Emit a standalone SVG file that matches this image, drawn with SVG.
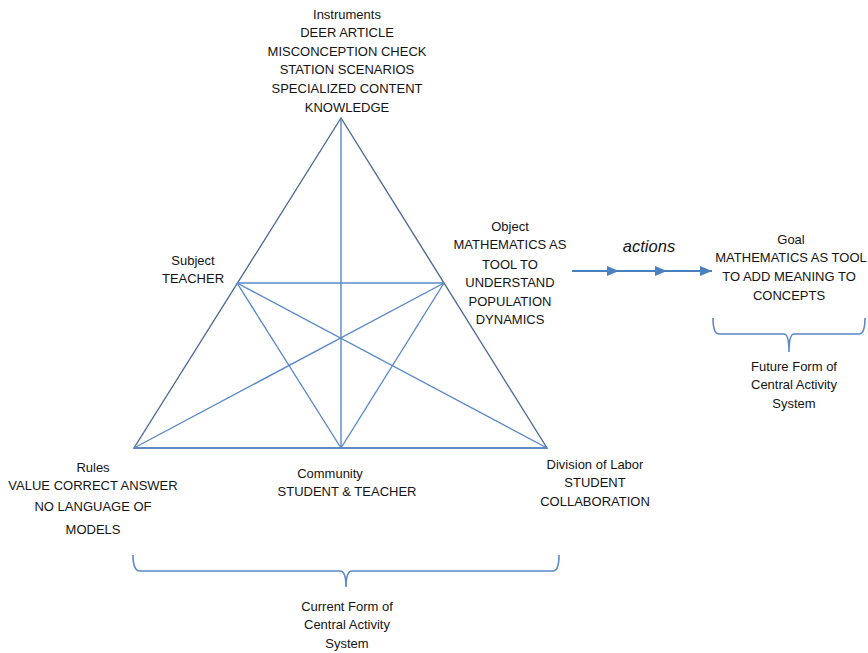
<svg xmlns="http://www.w3.org/2000/svg" width="868" height="653" viewBox="0 0 868 653">
  <style>
    text { font-family: "Liberation Sans", Arial, sans-serif; font-size: 13px; fill: #141414; text-anchor: middle; }
    .outer { stroke: #4f6c94; stroke-width: 1.4; fill: none; }
    .inner { stroke: #5a88c8; stroke-width: 1.4; fill: none; }
    .brace { stroke: #5a88c8; stroke-width: 1.6; fill: none; }
    .flow { stroke: #4a7fc0; stroke-width: 2; fill: none; }
    .it { font-style: italic; font-size: 16.5px; }
  </style>
  <defs>
    <marker id="tri" viewBox="0 0 12 10" refX="12" refY="5" markerWidth="12" markerHeight="10" markerUnits="userSpaceOnUse" orient="auto">
      <path d="M0,0 L12,5 L0,10 z" fill="#4a7fc0"/>
    </marker>
  </defs>
  <rect width="868" height="653" fill="#ffffff"/>

  <g id="connectors">
    <!-- outer triangle -->
    <path class="outer" d="M341,118 L134,448 L547,448 Z"/>
    <!-- inner mediating lines -->
    <line class="inner" x1="237" y1="283" x2="444" y2="283"/>
    <line class="inner" x1="341" y1="118" x2="341" y2="448"/>
    <line class="inner" x1="237" y1="283" x2="341" y2="448"/>
    <line class="inner" x1="237" y1="283" x2="547" y2="448"/>
    <line class="inner" x1="444" y1="283" x2="134" y2="448"/>
    <line class="inner" x1="444" y1="283" x2="341" y2="448"/>
    <line class="inner" x1="134" y1="448" x2="547" y2="448"/>
    <!-- actions arrow -->
    <line class="flow" x1="572" y1="271" x2="619" y2="271" marker-end="url(#tri)"/>
    <line class="flow" x1="617" y1="271" x2="667" y2="271" marker-end="url(#tri)"/>
    <line class="flow" x1="665" y1="271" x2="712" y2="271" marker-end="url(#tri)"/>
    <!-- braces -->
    <path class="brace" d="M133,555 Q133,571 140,571 L340,571 Q346,571 346,587 Q346,571 352,571 L553,571 Q559,571 559,555"/>
    <path class="brace" d="M713,318 Q713,334 719,334 L784,334 Q789,334 789,352 Q789,334 794,334 L859,334 Q865,334 865,318"/>
  </g>

  <g id="instruments">
    <text x="347" y="19">Instruments</text>
    <text x="347" y="37">DEER ARTICLE</text>
    <text x="347" y="56">MISCONCEPTION CHECK</text>
    <text x="347" y="74">STATION SCENARIOS</text>
    <text x="347" y="93">SPECIALIZED CONTENT</text>
    <text x="347" y="112">KNOWLEDGE</text>
  </g>

  <g id="subject">
    <text x="193" y="265">Subject</text>
    <text x="193" y="283">TEACHER</text>
  </g>

  <g id="object">
    <text x="510" y="231">Object</text>
    <text x="510" y="249">MATHEMATICS AS</text>
    <text x="510" y="269">TOOL TO</text>
    <text x="510" y="287">UNDERSTAND</text>
    <text x="510" y="306">POPULATION</text>
    <text x="510" y="324">DYNAMICS</text>
  </g>

  <g id="actions">
    <text class="it" x="649" y="252">actions</text>
  </g>

  <g id="goal">
    <text x="791" y="244">Goal</text>
    <text x="791" y="262">MATHEMATICS AS TOOL</text>
    <text x="789" y="281">TO ADD MEANING TO</text>
    <text x="789" y="300">CONCEPTS</text>
  </g>

  <g id="future-form">
    <text x="794" y="371">Future Form of</text>
    <text x="794" y="389">Central Activity</text>
    <text x="794" y="408">System</text>
  </g>

  <g id="rules">
    <text x="93" y="472">Rules</text>
    <text x="93" y="490">VALUE CORRECT ANSWER</text>
    <text x="93" y="511">NO LANGUAGE OF</text>
    <text x="93" y="534">MODELS</text>
  </g>

  <g id="community">
    <text x="330" y="478">Community</text>
    <text x="347" y="496">STUDENT &amp; TEACHER</text>
  </g>

  <g id="division-of-labor">
    <text x="595" y="469">Division of Labor</text>
    <text x="595" y="487">STUDENT</text>
    <text x="595" y="506">COLLABORATION</text>
  </g>

  <g id="current-form">
    <text x="347" y="611">Current Form of</text>
    <text x="347" y="629">Central Activity</text>
    <text x="347" y="648">System</text>
  </g>
</svg>
